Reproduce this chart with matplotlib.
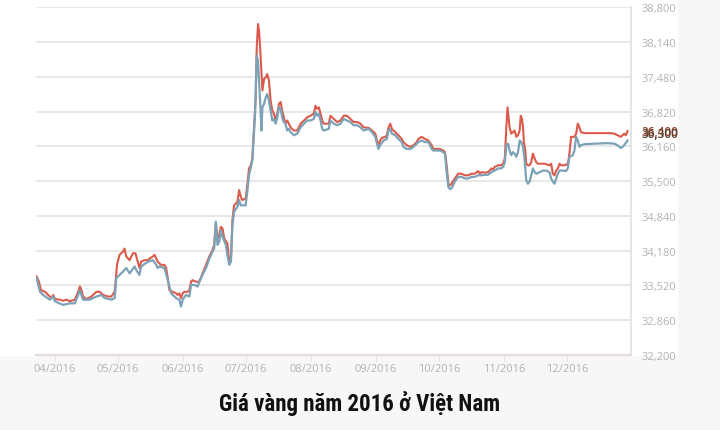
import pandas as pd
import numpy as np
import matplotlib
matplotlib.use("Agg")
import matplotlib.pyplot as plt
import matplotlib.dates as mdates
from matplotlib.ticker import FuncFormatter
from matplotlib.patches import Rectangle
from matplotlib import font_manager

# gold price 2016 (thousand VND), days counted from 01/04/2016
# red = selling price, blue = buying price
red_days = [-8.7, -7.6, -6.6, -4.7, -3.2, -1.6, -0.8, 0, 2.4, 3.9, 5.6, 7.1, 9.5,
            11.1, 11.9, 12.7, 13.4, 15.0, 17.4, 19.8, 21.4, 22.9, 25.3, 26.9, 28.5,
            29.6, 30.8, 32.4, 33.2, 34.0, 35.6, 37.2, 38.4, 39.5, 40.3, 41.1, 42.7,
            44.3, 45.1, 46.7, 47.5, 49.0, 50.6, 52.2, 53.0, 53.8, 54.6, 56.1, 57.8,
            58.5, 59.3, 60.1, 60.9, 61.7, 63.3, 64.1, 64.9, 65.6, 67.3, 68.8, 70.4,
            72.0, 73.6, 75.1, 75.9, 76.7, 77.5, 78.3, 79.1, 79.9, 80.7, 82.2, 83.1,
            83.9, 84.6, 85.4, 86.2, 87.0, 87.8, 88.6, 89.3, 90.9, 91.7, 92.5, 93.4,
            94.1, 94.6, 95.7, 96.2, 96.8, 97.3, 97.8, 98.4, 98.9, 99.7, 100.5, 101.2,
            102.0, 102.8, 103.6, 104.4, 105.2, 106.0, 106.8, 107.6, 108.3, 109.1,
            109.9, 110.7, 111.5, 112.3, 113.9, 115.5, 117.1, 118.7, 120.2, 121.8,
            123.4, 124.2, 125.0, 125.8, 126.6, 127.4, 128.1, 130.5, 131.3, 132.9,
            134.5, 136.1, 137.6, 139.2, 140.8, 142.4, 144.0, 145.6, 147.1, 149.5,
            151.1, 152.7, 153.5, 154.2, 155.0, 155.8, 157.4, 158.2, 159.0, 159.8,
            160.6, 162.2, 163.7, 165.3, 166.1, 167.7, 169.3, 170.9, 172.4, 173.2,
            174.8, 176.4, 178.0, 179.6, 180.3, 181.9, 183.5, 185.1, 185.9, 186.7,
            187.5, 188.3, 189.0, 190.6, 192.2, 193.8, 195.4, 197.0, 198.5, 200.1,
            201.7, 202.5, 203.3, 204.9, 206.4, 207.2, 208.0, 208.8, 209.6, 211.2,
            212.7, 213.6, 214.4, 215.2, 215.7, 216.3, 216.7, 217.5, 218.3, 219.1,
            219.9, 220.7, 221.5, 222.0, 222.6, 223.1, 223.5, 224.2, 224.6, 225.4,
            226.2, 227.0, 227.8, 228.6, 229.4, 230.2, 231.7, 233.4, 235.7, 236.5,
            237.3, 238.1, 238.9, 239.7, 240.5, 241.2, 242.9, 243.6, 244.4, 245.2,
            246.0, 247.6, 248.4, 249.2, 250.0, 250.7, 252.3, 255.5, 260.2, 265.0,
            266.6, 268.1, 269.7, 270.5, 271.3, 272.1, 272.9]
red_vals = [33690, 33590, 33430, 33400, 33340, 33280, 33340, 33260, 33250, 33230,
            33250, 33220, 33250, 33400, 33500, 33430, 33310, 33260, 33310, 33400,
            33400, 33340, 33310, 33310, 33400, 33910, 34100, 34160, 34220, 34070,
            34000, 34130, 34130, 33970, 33850, 33970, 34000, 34000, 34030, 34070,
            34100, 33970, 33910, 33910, 33850, 33660, 33430, 33400, 33370, 33340,
            33370, 33280, 33370, 33400, 33400, 33430, 33590, 33620, 33590, 33590,
            33750, 33910, 34070, 34190, 34290, 34700, 34410, 34480, 34630, 34600,
            34410, 34320, 33970, 34030, 34760, 35040, 35070, 35110, 35330, 35200,
            35140, 35170, 35420, 35740, 35800, 35930, 36300, 37090, 38040, 38480,
            38350, 38040, 37600, 37220, 37440, 37470, 37530, 37410, 37030, 36840,
            36780, 36650, 36780, 36970, 37000, 36840, 36710, 36590, 36650, 36590,
            36520, 36460, 36460, 36590, 36650, 36710, 36740, 36780, 36930, 36870,
            36900, 36780, 36650, 36590, 36590, 36740, 36680, 36620, 36650, 36740,
            36740, 36680, 36620, 36620, 36590, 36520, 36510, 36460, 36400, 36270,
            36180, 36270, 36320, 36340, 36370, 36520, 36590, 36490, 36430, 36370,
            36300, 36240, 36180, 36150, 36180, 36240, 36300, 36340, 36300, 36270,
            36180, 36110, 36110, 36110, 36080, 36050, 35800, 35450, 35420, 35450,
            35550, 35640, 35640, 35610, 35610, 35640, 35640, 35690, 35640, 35670,
            35660, 35670, 35700, 35740, 35720, 35770, 35800, 35800, 35830, 35930,
            36560, 36900, 36680, 36520, 36400, 36430, 36460, 36340, 36370, 36460,
            36740, 36680, 36520, 36240, 36080, 35830, 35800, 35800, 35860, 36020,
            35930, 35860, 35830, 35830, 35830, 35800, 35830, 35640, 35610, 35700,
            35740, 35830, 35800, 35800, 35820, 35800, 36020, 36340, 36340, 36400,
            36590, 36520, 36430, 36410, 36410, 36410, 36410, 36400, 36370, 36340,
            36370, 36400, 36370, 36450]

blue_days = [-8.7, -7.1, -5.6, -2.4, -0.8, 0, 3.9, 7.1, 9.5, 11.1, 11.9, 13.4, 16.6,
             19.8, 22.2, 23.7, 26.9, 28.5, 29.3, 30.8, 32.4, 34.0, 35.6, 38.0, 38.8,
             40.3, 41.1, 44.3, 46.7, 48.3, 49.0, 49.8, 52.2, 53.8, 55.4, 57.8, 59.3,
             60.1, 60.9, 62.5, 64.1, 64.9, 66.4, 68.0, 69.6, 72.0, 73.6, 75.1, 75.9,
             76.7, 77.5, 78.3, 79.1, 79.9, 81.5, 82.2, 83.1, 83.9, 84.6, 85.4, 87.0,
             87.8, 88.6, 90.9, 91.7, 92.5, 93.4, 94.1, 94.6, 95.4, 96.2, 96.8, 97.3,
             98.1, 98.4, 98.9, 99.7, 100.5, 101.2, 102.0, 102.8, 103.6, 104.4, 105.2,
             106.0, 106.8, 107.6, 108.3, 109.1, 109.9, 110.7, 111.5, 112.3, 113.9,
             115.5, 117.1, 118.7, 120.2, 121.8, 123.4, 124.2, 125.0, 125.8, 126.6,
             127.4, 128.1, 130.5, 131.3, 132.9, 134.5, 136.1, 137.6, 139.2, 140.8,
             142.4, 144.0, 145.6, 147.1, 149.5, 151.1, 152.7, 153.5, 154.2, 155.0,
             156.6, 158.2, 159.0, 159.8, 160.6, 162.2, 163.7, 165.3, 166.1, 167.7,
             169.3, 170.9, 172.4, 173.2, 174.8, 176.4, 178.0, 179.6, 180.3, 181.9,
             183.5, 185.1, 185.9, 186.7, 187.5, 188.3, 189.0, 190.6, 192.2, 193.8,
             195.4, 197.0, 198.5, 200.1, 201.7, 203.3, 204.9, 206.4, 208.0, 209.6,
             211.2, 212.7, 213.6, 214.4, 215.2, 216.0, 216.7, 217.5, 218.3, 219.1,
             219.9, 220.7, 221.5, 222.3, 223.1, 223.9, 224.6, 225.4, 226.2, 227.0,
             227.8, 228.6, 229.4, 231.0, 232.6, 234.1, 235.7, 236.5, 237.3, 238.1,
             238.9, 239.7, 240.5, 242.0, 243.6, 244.4, 245.2, 246.8, 247.6, 248.4,
             249.2, 250.0, 250.7, 252.3, 257.1, 263.4, 266.6, 268.1, 269.7, 270.5,
             271.3, 272.9]
blue_vals = [33660, 33400, 33340, 33250, 33310, 33220, 33150, 33180, 33180, 33340,
             33430, 33250, 33250, 33310, 33340, 33280, 33250, 33280, 33660, 33720,
             33780, 33850, 33750, 33880, 33810, 33720, 33880, 33970, 34000, 33910,
             33850, 33880, 33850, 33620, 33370, 33280, 33250, 33120, 33250, 33340,
             33310, 33530, 33530, 33500, 33660, 33850, 34030, 34160, 34220, 34730,
             34290, 34350, 34570, 34440, 34290, 34100, 33910, 33970, 34660, 34920,
             35010, 35140, 35040, 35040, 35300, 35610, 35770, 35890, 36240, 36780,
             37880, 37780, 37410, 36780, 36460, 36900, 36970, 37090, 37150, 37030,
             36840, 36650, 36680, 36590, 36710, 36900, 36870, 36710, 36620, 36590,
             36460, 36490, 36430, 36370, 36400, 36520, 36590, 36650, 36650, 36680,
             36810, 36740, 36780, 36650, 36490, 36460, 36490, 36650, 36590, 36560,
             36590, 36680, 36650, 36620, 36560, 36560, 36520, 36460, 36490, 36430,
             36340, 36210, 36110, 36180, 36270, 36300, 36460, 36490, 36400, 36370,
             36300, 36240, 36150, 36110, 36110, 36150, 36210, 36240, 36270, 36240,
             36240, 36110, 36080, 36080, 36080, 36050, 36020, 35670, 35390, 35350,
             35360, 35490, 35580, 35580, 35550, 35550, 35580, 35580, 35610, 35610,
             35620, 35620, 35670, 35700, 35740, 35740, 35770, 35860, 36180, 36210,
             36080, 35990, 36050, 36020, 35960, 36050, 36270, 36240, 36150, 35890,
             35520, 35450, 35490, 35610, 35740, 35670, 35640, 35670, 35700, 35700,
             35670, 35550, 35490, 35450, 35550, 35640, 35700, 35700, 35690, 35740,
             35960, 35990, 36080, 36340, 36270, 36150, 36180, 36200, 36210, 36220,
             36210, 36180, 36130, 36150, 36180, 36270]

y_ticks = [32200, 32860, 33520, 34180, 34840, 35500, 36160, 36820, 37480, 38140, 38800]
end_labels = ["36,400", "36,300"]
title = "Giá vàng năm 2016 ở Việt Nam"

start = pd.Timestamp("2016-04-01")


def to_dates(days):
    """convert day offsets to timestamps"""
    return start + pd.to_timedelta(np.array(days), unit="D")


# pick the narrowest bold family available for the caption
installed = {f.name for f in font_manager.fontManager.ttflist}
title_font = "DejaVu Sans"
title_size = 14
for name, size in [("Roboto Condensed", 16.5), ("Liberation Sans Narrow", 16),
                   ("DejaVu Sans Condensed", 15), ("Roboto", 14.5)]:
    if name in installed:
        title_font = name
        title_size = size
        break
tick_font = ["Open Sans", "DejaVu Sans"]

fig = plt.figure(figsize=(7.2, 4.31), dpi=100, facecolor="#f7f7f7")
# white panel behind the chart
fig.patches.append(Rectangle((0, 0.172), 0.942, 0.828,
                             transform=fig.transFigure,
                             facecolor="white", edgecolor="none",
                             zorder=-10))
ax = fig.add_axes([0.05, 0.174, 0.826, 0.807])
ax.set_facecolor("white")

ax.plot(to_dates(red_days), red_vals, color="#dc5a4b", lw=1.5, zorder=3)
ax.plot(to_dates(blue_days), blue_vals, color="#7ba2b7", lw=1.6, zorder=4)

# axes limits and ticks
ax.set_ylim(y_ticks[0], y_ticks[-1])
ax.set_yticks(y_ticks)
ax.yaxis.tick_right()
ax.yaxis.set_major_formatter(FuncFormatter(lambda v, p: f"{v:,.0f}"))
ax.set_xlim(pd.Timestamp("2016-03-23"), pd.Timestamp("2016-12-31 10:00"))
ax.xaxis.set_major_locator(mdates.MonthLocator())
ax.xaxis.set_major_formatter(mdates.DateFormatter("%m/%Y"))

ax.grid(axis="y", color="#e8e8e8", lw=1.4)
ax.set_axisbelow(True)
for side in ["left", "top"]:
    ax.spines[side].set_visible(False)
ax.spines["right"].set_color("#e0e0e0")
ax.spines["right"].set_linewidth(1.2)
ax.spines["bottom"].set_color("#e6dcdc")
ax.spines["bottom"].set_linewidth(1.6)

ax.tick_params(axis="x", length=5, color="#e4e4e4", pad=1,
               labelsize=8, labelcolor="#b3b3b3")
ax.tick_params(axis="y", length=0, pad=8,
               labelsize=8, labelcolor="#b3b3b3")
for lab in ax.get_xticklabels() + ax.get_yticklabels():
    lab.set_family(tick_font)

# last value labels on the right (they overlap in the original too)
ax.annotate(end_labels[0], xy=(1, red_vals[-1]),
            xycoords=("axes fraction", "data"),
            xytext=(8, 0), textcoords="offset points",
            ha="left", va="center", fontsize=8.5, fontweight="semibold",
            color="#94432f", family=tick_font, annotation_clip=False)
ax.annotate(end_labels[1], xy=(1, blue_vals[-1]),
            xycoords=("axes fraction", "data"),
            xytext=(8, 5), textcoords="offset points",
            ha="left", va="center", fontsize=8.5, fontweight="semibold",
            color="#5a3f30", family=tick_font, annotation_clip=False)

fig.text(0.499, 0.063, title, ha="center", va="center",
         fontsize=title_size, fontweight="bold", color="#111111",
         family=[title_font, "DejaVu Sans"])

fig.savefig("out.png", dpi=100, facecolor=fig.get_facecolor())
